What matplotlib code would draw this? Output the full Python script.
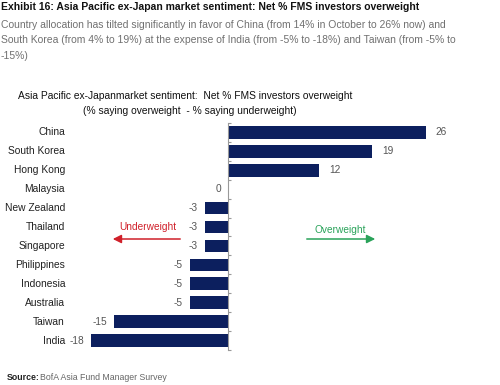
import numpy as np
import matplotlib.pyplot as plt

countries = ["China", "South Korea", "Hong Kong", "Malaysia", "New Zealand", "Thailand",
             "Singapore", "Philippines", "Indonesia", "Australia", "Taiwan", "India"]
values = [26, 19, 12, 0, -3, -3, -3, -5, -5, -5, -15, -18]

W, H = 500, 385
fig = plt.figure(figsize=(5, 3.85), dpi=100)
plt.rcParams["font.family"] = ["Liberation Sans", "DejaVu Sans"]
narrow = ["Liberation Sans Narrow", "Liberation Sans"]

# header
fig.text(1 / W, 1 - 7 / H, "Exhibit 16: Asia Pacific ex-Japan market sentiment: Net % FMS investors overweight",
         family=narrow, weight="bold", fontsize=7.5, va="center", color="#111111")
sub = ("Country allocation has tilted significantly in favor of China (from 14% in October to 26% now) and\n"
       "South Korea (from 4% to 19%) at the expense of India (from -5% to -18%) and Taiwan (from -5% to\n"
       "-15%)")
fig.text(1 / W, 1 - 20 / H, sub, family=narrow, fontsize=7.5, va="top", color="#707070", linespacing=1.68)

# chart title
fig.text(18 / W, 1 - 96 / H, "Asia Pacific ex-Japanmarket sentiment:  Net % FMS investors overweight",
         fontsize=7.4, va="center", color="#111111")
fig.text(83 / W, 1 - 111 / H, "(% saying overweight  - % saying underweight)",
         fontsize=7.4, va="center", color="#111111")

ax = fig.add_axes([91 / W, 1 - 350 / H, 365 / W, 227 / H])
y = np.arange(len(countries))
ax.barh(y, values, height=0.67, color="#0c1f5e")
ax.set_xlim(-18, 30)
ax.set_ylim(len(countries) - 0.5, -0.5)

for s in ["top", "right", "bottom"]:
    ax.spines[s].set_visible(False)
ax.spines["left"].set_position(("data", 0))
ax.spines["left"].set_color("#999999")
ax.spines["left"].set_linewidth(0.8)
ax.set_xticks([])
ax.set_yticks(np.arange(-0.5, len(countries)))
ax.set_yticklabels([])
ax.tick_params(axis="y", direction="in", length=2.5, color="#999999", width=0.8)

for yi, (c, v) in enumerate(zip(countries, values)):
    ax.annotate(c, xy=(0, yi), xycoords=("axes fraction", "data"), xytext=(-26, 0),
                textcoords="offset pixels", ha="right", va="center", fontsize=7.4, color="#222222")
    if v > 0:
        ax.annotate(str(v), xy=(v, yi), xytext=(10, 0), textcoords="offset pixels",
                    ha="left", va="center", fontsize=7.3, color="#555555")
    else:
        ax.annotate(str(v), xy=(v, yi), xytext=(-7, 0), textcoords="offset pixels",
                    ha="right", va="center", fontsize=7.3, color="#555555")

# direction arrows
fig.text(148 / W, 1 - 227 / H, "Underweight", ha="center", va="center", fontsize=7.3, color="#d0202a")
fig.patches.append(plt.matplotlib.patches.FancyArrowPatch(
    (183 / W, 1 - 239 / H), (110 / W, 1 - 239 / H), transform=fig.transFigure,
    arrowstyle="-|>,head_length=5,head_width=2.5", color="#d0202a", lw=1.1))
fig.text(340 / W, 1 - 230 / H, "Overweight", ha="center", va="center", fontsize=7.3, color="#2aa35a")
fig.patches.append(plt.matplotlib.patches.FancyArrowPatch(
    (304 / W, 1 - 239 / H), (378 / W, 1 - 239 / H), transform=fig.transFigure,
    arrowstyle="-|>,head_length=5,head_width=2.5", color="#2aa35a", lw=1.1))

# source
fig.text(7 / W, 1 - 378 / H, "Source:", family=narrow, weight="bold", fontsize=6.3,
         va="center", color="#222222")
fig.text(40 / W, 1 - 378 / H, "BofA Asia Fund Manager Survey", family=narrow, fontsize=6.3,
         va="center", color="#666666")

fig.savefig("out.png", dpi=100)
